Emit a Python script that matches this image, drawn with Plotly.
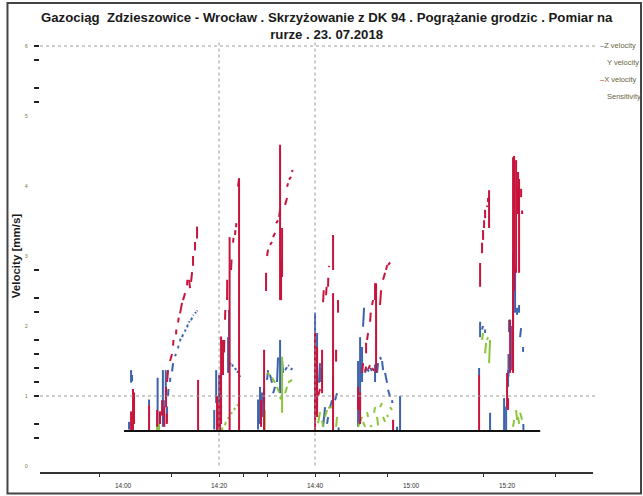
import plotly.graph_objects as go
from datetime import datetime, timedelta

# ---------------- data (minutes after 14:00, velocity mm/s) ----------------
title_text = ("<b>Gazociąg  Zdzieszowice - Wrocław . Skrzyżowanie z DK 94 . Pogrążanie grodzic . Pomiar na"
              "<br>rurze . 23. 07.2018</b>")
series_names = ["Z velocity", "Y velocity", "X velocity", "Sensitivity"]
series_colors = ["#3d63ad", "#8cc43c", "#c8143c", "#111111"]

x_tick_minutes = [0, 20, 40, 60, 80]
x_tick_labels = ["14:00", "14:20", "14:40", "15:00", "15:20"]
x_mark_minutes = [-5, 10, 20, 25, 30, 40, 45, 55, 75, 90]
y_tick_vals = [0, 1, 2, 3, 4, 5, 6]
y_mark_vals = [6, 5.8, 5.4, 5.2, 2.8, 2.4, 2.2, 1.8, 1.6, 1.4, 1.2, 1.0, 0.6, 0.4]

# segments: (t0, v0, t1, v1)
z_segments = [
    (1.25, 0.52, 1.25, 0.63), (1.67, 1.19, 1.67, 1.37), (1.88, 1.21, 1.88, 1.30),
    (5.42, 0.87, 5.42, 0.95), (7.2, 0.52, 7.2, 1.26), (8.3, 0.56, 8.3, 1.37),
    (8.5, 0.60, 8.5, 0.94), (8.9, 0.95, 8.9, 1.37), (9.17, 0.62, 9.17, 0.85),
    (9.38, 1.00, 9.45, 1.10), (9.79, 1.20, 9.85, 1.26), (10.21, 1.35, 10.42, 1.47),
    (10.83, 1.57, 11.04, 1.60), (11.46, 1.68, 11.55, 1.72), (11.88, 1.78, 11.95, 1.82),
    (12.29, 1.84, 12.5, 1.88), (12.92, 1.92, 13.0, 1.95), (13.33, 1.98, 13.5, 2.02),
    (13.75, 2.05, 13.85, 2.07), (14.17, 2.08, 14.38, 2.12), (14.58, 2.15, 14.7, 2.16),
    (15.0, 2.18, 15.2, 2.20), (15.42, 2.21, 15.5, 2.22),
    (19.0, 0.52, 19.0, 0.80), (19.4, 0.90, 19.4, 1.37), (20.0, 0.90, 20.0, 1.30),
    (20.4, 1.00, 20.4, 1.25), (21.88, 1.33, 21.88, 1.84), (22.08, 1.40, 22.08, 2.23),
    (22.29, 1.45, 22.5, 1.47), (22.71, 1.42, 22.92, 1.45), (23.33, 1.40, 23.54, 1.37),
    (23.8, 1.33, 23.96, 1.36), (24.17, 1.30, 24.38, 1.27),
    (28.13, 0.52, 28.13, 0.95), (28.54, 0.60, 28.54, 1.13), (28.96, 0.70, 28.96, 1.05),
    (29.38, 0.90, 29.38, 1.10), (30.0, 1.23, 30.21, 1.37), (30.63, 1.30, 31.04, 1.19),
    (31.25, 1.04, 31.67, 1.13), (32.08, 1.20, 32.29, 1.55), (32.71, 1.04, 32.71, 1.80),
    (33.13, 1.51, 33.33, 1.33), (33.75, 1.37, 34.17, 1.41), (34.38, 1.44, 34.58, 1.43),
    (35.0, 1.37, 35.21, 1.40),
    (40.0, 0.70, 40.0, 2.19), (40.42, 0.75, 40.42, 1.90), (40.83, 1.19, 41.04, 1.47),
    (41.25, 1.20, 41.25, 1.40), (41.67, 0.56, 42.08, 0.84), (42.5, 0.60, 42.71, 0.70),
    (43.13, 0.84, 43.54, 0.94), (43.75, 0.94, 43.75, 1.27), (44.17, 0.94, 44.58, 1.04),
    (44.9, 0.50, 44.9, 0.55),
    (48.96, 0.56, 48.96, 1.50), (49.38, 0.80, 49.38, 1.84), (49.79, 1.20, 49.79, 1.70),
    (50.0, 1.99, 50.21, 2.26), (50.42, 1.33, 50.63, 1.40), (50.83, 1.38, 51.25, 1.35),
    (51.46, 1.40, 51.88, 1.36), (52.5, 1.20, 52.5, 1.45), (52.92, 1.33, 53.13, 1.47),
    (53.54, 1.56, 53.75, 1.52), (53.96, 1.50, 54.17, 1.37), (54.58, 1.33, 55.0, 1.19),
    (55.21, 1.09, 55.63, 0.99), (56.04, 0.94, 56.1, 0.90), (57.08, 0.50, 57.08, 0.56),
    (57.71, 0.50, 57.71, 1.00),
    (74.17, 1.30, 74.17, 1.40), (74.38, 1.84, 74.38, 2.06), (74.79, 1.95, 75.0, 2.00),
    (75.42, 1.90, 75.42, 1.95), (76.46, 0.50, 76.46, 0.76),
    (79.38, 0.50, 79.38, 0.97), (79.8, 0.50, 79.8, 0.85), (80.21, 1.13, 80.21, 1.37),
    (80.3, 1.28, 80.3, 1.60), (80.42, 1.91, 80.42, 2.09), (81.04, 1.37, 81.04, 2.00),
    (81.25, 2.00, 81.25, 3.04), (81.67, 2.19, 81.67, 2.84), (82.08, 2.16, 82.08, 2.26),
    (82.5, 2.19, 82.5, 2.30), (82.71, 1.84, 82.92, 1.97), (83.33, 1.63, 83.33, 1.70),
    (83.4, 0.50, 83.4, 0.60),
]

x_segments = [
    (1.67, 0.51, 1.67, 0.78), (2.08, 0.51, 2.08, 1.10), (2.29, 0.60, 2.29, 1.05),
    (5.42, 0.50, 5.42, 0.87), (7.1, 0.56, 7.1, 0.80), (7.7, 0.60, 7.7, 0.78),
    (8.13, 0.72, 8.13, 0.94), (8.6, 0.56, 8.6, 0.85), (8.96, 0.84, 8.96, 1.13),
    (9.1, 0.60, 9.1, 0.75), (9.17, 1.20, 9.38, 1.37), (9.79, 1.50, 10.21, 1.60),
    (10.42, 1.72, 10.5, 1.80), (11.04, 1.88, 11.1, 1.95), (11.46, 2.05, 11.6, 2.12),
    (11.88, 2.18, 12.29, 2.33), (12.5, 2.37, 12.92, 2.47), (13.33, 2.58, 13.4, 2.66),
    (13.75, 2.66, 13.96, 2.54), (14.17, 2.63, 14.38, 2.77), (14.58, 2.86, 14.58, 3.00),
    (15.0, 3.08, 15.0, 3.20), (15.42, 3.25, 15.42, 3.42), (15.63, 0.50, 15.63, 1.23),
    (19.58, 0.50, 19.58, 1.00), (20.0, 0.52, 20.0, 0.90), (20.21, 0.50, 20.21, 1.30),
    (20.42, 0.60, 20.42, 1.85), (20.83, 1.30, 20.83, 1.80), (21.04, 1.62, 21.1, 1.80),
    (21.25, 2.09, 21.3, 2.23), (21.67, 2.37, 21.7, 2.66), (22.2, 0.50, 22.2, 3.27),
    (22.5, 2.80, 22.6, 2.95), (22.92, 3.19, 23.0, 3.26), (23.33, 3.30, 23.4, 3.37),
    (23.54, 3.41, 23.6, 3.47), (23.96, 3.99, 24.17, 4.11), (24.17, 0.50, 24.17, 4.11),
    (28.75, 0.56, 28.75, 0.94), (29.38, 0.50, 29.38, 1.66), (29.79, 2.50, 29.79, 2.76),
    (30.0, 3.00, 30.21, 3.09), (30.63, 3.16, 31.04, 3.20), (31.25, 3.27, 31.67, 3.33),
    (31.88, 3.47, 32.29, 3.51), (32.5, 3.56, 32.71, 3.66), (32.71, 2.37, 32.71, 4.59),
    (32.92, 2.37, 32.92, 2.94), (33.13, 2.70, 33.13, 3.40), (33.75, 3.73, 34.17, 3.83),
    (34.17, 3.99, 34.38, 4.04), (34.58, 4.09, 35.0, 4.13), (35.21, 4.20, 35.3, 4.23),
    (40.0, 0.50, 40.0, 1.90), (40.42, 0.70, 40.42, 1.70), (40.63, 1.00, 41.04, 1.10),
    (41.46, 1.04, 41.46, 1.66), (41.67, 2.34, 41.8, 2.51), (42.29, 2.44, 42.4, 2.56),
    (42.71, 2.56, 42.75, 2.69), (42.92, 2.84, 42.95, 2.86), (43.75, 2.80, 43.75, 3.30),
    (43.75, 0.50, 43.75, 2.47), (44.38, 1.49, 44.38, 1.66), (44.79, 2.19, 44.79, 2.37),
    (48.96, 0.80, 48.96, 1.13), (49.38, 0.60, 49.38, 1.05), (49.79, 1.33, 50.0, 1.47),
    (50.42, 1.35, 50.63, 1.42), (50.63, 1.61, 50.63, 1.76), (50.83, 1.80, 51.04, 1.90),
    (51.04, 1.38, 51.46, 1.44), (51.46, 2.06, 51.6, 2.19), (51.88, 2.30, 52.08, 2.37),
    (51.88, 1.40, 52.3, 1.36), (52.5, 2.37, 52.5, 2.61), (52.71, 1.33, 52.71, 2.61),
    (53.54, 2.30, 53.75, 2.51), (54.17, 2.66, 54.58, 2.76), (54.8, 2.80, 55.0, 2.87),
    (55.21, 2.87, 55.63, 2.91), (56.25, 0.50, 56.25, 0.66),
    (74.17, 0.50, 74.17, 1.30), (74.38, 2.56, 74.38, 2.90), (74.79, 3.04, 74.79, 3.19),
    (75.0, 3.23, 75.0, 3.37), (75.21, 3.40, 75.21, 3.51), (75.42, 3.54, 75.42, 3.66),
    (75.83, 3.70, 75.9, 3.72), (76.04, 3.77, 76.04, 3.83), (76.25, 3.40, 76.25, 3.94),
    (80.0, 0.84, 80.0, 1.33), (80.21, 0.80, 80.21, 0.97), (80.63, 1.33, 80.63, 2.09),
    (81.25, 1.33, 81.25, 4.41), (81.46, 2.50, 81.46, 4.43), (81.88, 2.76, 81.88, 4.37),
    (82.08, 3.60, 82.08, 4.00), (82.29, 3.60, 82.29, 4.20), (82.5, 2.76, 82.5, 4.10),
    (82.92, 3.84, 82.92, 3.96), (83.13, 3.60, 83.13, 3.65),
]

y_segments = [
    (7.1, 0.50, 7.1, 0.70), (7.5, 0.50, 7.5, 0.60),
    (20.63, 0.51, 20.7, 0.55), (21.25, 0.58, 21.4, 0.63), (21.88, 0.67, 22.0, 0.70),
    (22.5, 0.74, 22.71, 0.77), (23.13, 0.80, 23.33, 0.83), (23.75, 0.86, 23.96, 0.88),
    (24.17, 0.50, 24.17, 0.73),
    (29.5, 0.50, 29.5, 0.80), (30.0, 1.33, 30.63, 1.30), (31.04, 1.26, 31.67, 1.19),
    (32.08, 1.13, 32.5, 1.05), (32.71, 0.99, 32.9, 0.95), (33.13, 0.76, 33.13, 1.56),
    (33.75, 1.04, 34.17, 1.13), (34.38, 1.19, 35.21, 1.23),
    (40.63, 0.61, 41.04, 0.77), (41.46, 0.65, 41.67, 0.56), (42.08, 0.70, 42.5, 0.80),
    (42.71, 0.83, 43.54, 0.84), (43.75, 0.90, 43.8, 0.86), (44.38, 0.56, 44.58, 0.70),
    (48.96, 0.56, 49.79, 0.70), (50.0, 0.63, 50.42, 0.56), (50.83, 0.77, 51.04, 0.70),
    (51.46, 0.58, 51.88, 0.56), (52.29, 0.76, 52.5, 0.84), (52.92, 0.70, 53.13, 0.58),
    (53.54, 0.84, 53.96, 0.90), (54.17, 0.70, 54.58, 0.63), (55.0, 0.73, 55.21, 0.70),
    (55.63, 0.84, 56.04, 0.80),
    (74.79, 1.80, 75.0, 1.90), (75.42, 1.61, 75.63, 1.76), (75.83, 1.80, 76.04, 1.84),
    (76.25, 1.47, 76.46, 1.80),
    (81.25, 0.56, 81.46, 0.66), (81.88, 0.80, 82.08, 0.66), (82.29, 0.70, 82.5, 0.60),
    (82.71, 0.76, 83.13, 0.66),
]

sens_time = [0.2, 86.9]
sens_vel = [0.5, 0.5]

x_range_min = [-17.3, 97.9]
y_range = [-0.086, 6.086]

# ---------------- build ----------------
base = datetime(2018, 7, 23, 14, 0)


def to_dt(m):
    return None if m is None else base + timedelta(minutes=m)


def flatten(segs):
    xs, ys = [], []
    for t0, v0, t1, v1 in segs:
        xs += [to_dt(t0), to_dt(t1), None]
        ys += [v0, v1, None]
    return xs, ys


fig = go.Figure()
for segs, name, col in zip([z_segments, y_segments, x_segments],
                           [series_names[0], series_names[1], series_names[2]],
                           [series_colors[0], series_colors[1], series_colors[2]]):
    xs, ys = flatten(segs)
    fig.add_trace(go.Scatter(x=xs, y=ys, mode="lines", name=name,
                             line=dict(color=col, width=2), connectgaps=False,
                             showlegend=False))

fig.add_trace(go.Scatter(x=[to_dt(t) for t in sens_time], y=sens_vel, mode="lines",
                         name=series_names[3], line=dict(color=series_colors[3], width=2),
                         showlegend=False, xaxis="x2", yaxis="y2"))

xr = [to_dt(x_range_min[0]), to_dt(x_range_min[1])]

# dotted grid lines
for m in [20, 40]:
    fig.add_shape(type="line", xref="x", yref="paper", x0=to_dt(m), x1=to_dt(m), y0=0.015, y1=1.0,
                  line=dict(color="#9a9a9a", width=1, dash="dot"))
for v in [1, 6]:
    fig.add_shape(type="line", xref="paper", yref="y", x0=0.0, x1=1.008, y0=v, y1=v,
                  line=dict(color="#9a9a9a", width=1, dash="dot"))

# outer frame
fig.add_shape(type="rect", xref="paper", yref="paper", x0=-0.0588, x1=1.0868, y0=-0.0498, y1=1.0856,
              line=dict(color="#444444", width=2))

# legend as text
leg_y = [46, 63, 79, 96]
for name, col, yp, dash in zip(series_names, series_colors, leg_y, [True, False, True, False]):
    yy = (472 - yp) / 432
    txt = name
    if dash:
        txt = f"<span style='color:{col}'>–</span>" + name
        xx = (598 - 40) / 553
    else:
        xx = (605 - 40) / 553
    fig.add_annotation(text=txt, xref="paper", yref="paper", x=xx, y=yy, xanchor="left",
                       yanchor="middle", showarrow=False,
                       font=dict(size=7.5, color="#6b6440", family="Liberation Sans"))

fig.update_layout(
    width=643, height=496,
    margin=dict(l=40, r=50, t=40, b=24, autoexpand=False),
    paper_bgcolor="white", plot_bgcolor="white",
    title=dict(text=title_text, x=0.508, xref="container", xanchor="center",
               y=1 - 22 / 496, yref="container", yanchor="top",
               font=dict(family="Liberation Sans", size=13.2, color="#1a1a1a")),
    xaxis=dict(type="date", range=xr, tickvals=[to_dt(m) for m in x_tick_minutes],
               ticktext=x_tick_labels, showgrid=False, zeroline=False, automargin=False,
               showline=True, linecolor="#333333", linewidth=1.5,
               ticks="outside", ticklen=6, tickcolor="rgba(0,0,0,0)",
               tickfont=dict(size=6.5, color="#333333", family="Liberation Sans")),
    xaxis2=dict(type="date", range=xr, overlaying="x", anchor="y2", side="bottom",
                tickvals=[to_dt(m) for m in x_mark_minutes], showticklabels=False,
                ticks="outside", ticklen=4, tickcolor="#333333", tickwidth=1.2,
                showgrid=False, zeroline=False, showline=False, automargin=False),
    yaxis=dict(range=y_range, tickvals=y_tick_vals, ticktext=[str(v) for v in y_tick_vals],
               showgrid=False, zeroline=False, showline=False, automargin=False,
               ticks="outside", ticklen=10, tickcolor="rgba(0,0,0,0)",
               tickfont=dict(size=5.5, color="#8a7a40", family="Liberation Sans"),
               title=dict(text="<b>Velocity [mm/s]</b>", standoff=1,
                          font=dict(size=11.5, color="#1a1a1a", family="Liberation Sans"))),
    yaxis2=dict(range=y_range, overlaying="y", anchor="x2", side="left",
                tickvals=y_mark_vals, showticklabels=False, automargin=False,
                ticks="outside", ticklen=5, tickcolor="#222222", tickwidth=1.5,
                showgrid=False, zeroline=False, showline=False),
)

fig.write_html("out.html", config={"displayModeBar": False},
               post_script="document.body.style.margin='0px';")
